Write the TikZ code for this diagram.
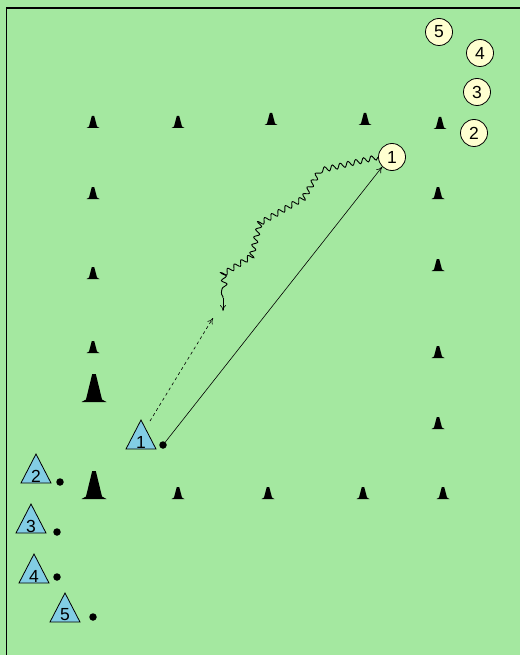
\documentclass[tikz,border=0pt]{standalone}
\usepackage{fontspec}
\setmainfont{Liberation Sans}
\usetikzlibrary{decorations.pathmorphing,arrows.meta}
\definecolor{pitch}{RGB}{164,232,160}
\definecolor{plblue}{RGB}{130,205,228}
\definecolor{ballcream}{RGB}{255,255,208}
\tikzset{
  x=1pt, y=-1pt,
  cone/.pic={\fill[black] (-6.5,0) -- (-4,-1.5) -- (-1.2,-12) -- (1.2,-12) -- (4,-1.5) -- (6.5,0) -- cycle;},
  bigcone/.pic={\fill[black] (-12.5,0) -- (-8,-2.5) -- (-1.8,-28) -- (1.8,-28) -- (8,-2.5) -- (12.5,0) -- cycle;},
  tri/.pic={\draw[fill=plblue, line width=0.8pt] (-15,7) -- (0,-22) -- (15,7) -- cycle;},
  num/.style={font=\fontsize{17.5}{17.5}\selectfont, inner sep=0pt},
  ball/.style={circle, draw, line width=0.8pt, fill=ballcream, minimum size=27pt, inner sep=0pt, font=\fontsize{17.5}{17.5}\selectfont},
  dot/.style={circle, fill=black, minimum size=7.5pt, inner sep=0pt},
  move/.style={-{To[length=6pt,width=6pt]}, line width=0.6pt},
}
\begin{document}
\begin{tikzpicture}
\useasboundingbox (0,0) rectangle (520,655);
\fill[pitch] (0,0) rectangle (520,655);
\draw[line width=1.6pt] (6.5,655) -- (6.5,8) -- (520,8);

% cones: top row, side columns, bottom row
\foreach \x/\y in {93/128,178/128,271/125,365/125,440/129,
                   93/199,93/279,93/353,
                   438/199,438/271,438/358,438/429,
                   178/499,268/499,363/499,443/499}
  \pic at (\x,\y) {cone};
\pic at (94,402) {bigcone};
\pic at (94,499) {bigcone};

% balls
\node[ball] (b1) at (392,157) {1};
\node[ball] (b2) at (474,133) {2};
\node[ball] (b3) at (477,92) {3};
\node[ball] (b4) at (480,53) {4};
\node[ball] (b5) at (439,32) {5};

% players with their balls at the feet
\foreach \n/\x/\y/\dx/\dy in {1/141/442/163/445, 2/36/476/60/482, 3/31/526/57/532,
                              4/34/576/57/577, 5/65/615/93/617} {
  \pic at (\x,\y) {tri};
  \node[num] (p\n) at (\x,\y) {\n};
  \node[dot] (d\n) at (\dx,\dy) {};
}

% runs and passes
\coordinate (runend) at (213,318);
\draw[move, dashed] (150,421) -- (runend);
\draw[move] (d1) -- (b1.225);

\coordinate (w1) at (322,170);
\coordinate (w2) at (307,195);
\coordinate (w3) at (260,222);
\coordinate (w4) at (251,258);
\coordinate (w5) at (221,277);
\coordinate (w6) at (223,298);
\coordinate (dribend) at (223,311);
\draw[line width=0.9pt, decorate, decoration={snake, segment length=8pt, amplitude=2.6pt}]
  (b1.west) -- (w1) -- (w2) -- (w3) -- (w4) -- (w5) -- (w6);
\draw[move] (w6) -- (dribend);
\end{tikzpicture}
\end{document}
